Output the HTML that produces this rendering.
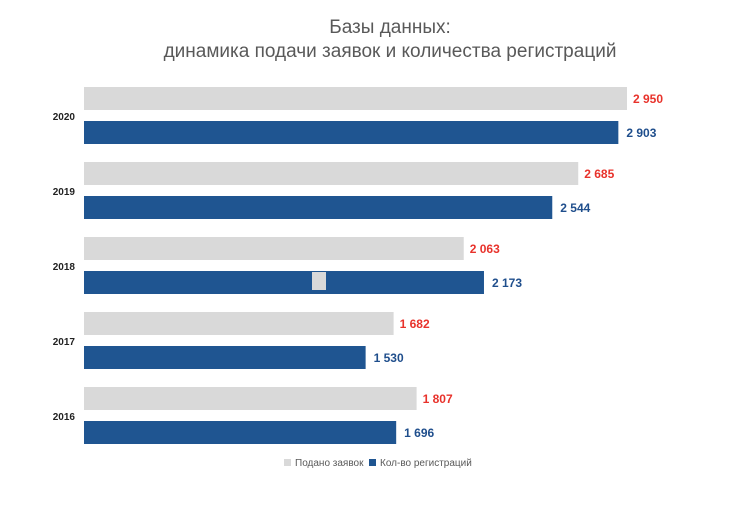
<!DOCTYPE html>
<html><head><meta charset="utf-8"><style>
body{margin:0;background:#fff;width:739px;height:500px;overflow:hidden;font-family:"Liberation Sans",sans-serif;}
</style></head><body>
<svg width="739" height="500" id="c">
<text x="390" y="33" text-anchor="middle" font-size="19" fill="#595959">Базы данных:</text>
<text x="390" y="57" text-anchor="middle" font-size="19" fill="#595959">динамика подачи заявок и количества регистраций</text>
<g id="bars"></g>
<rect x="284" y="459" width="7" height="7" fill="#d9d9d9"/>
<text x="295" y="466" font-size="10" fill="#595959">Подано заявок</text>
<rect x="369" y="459" width="7" height="7" fill="#1f5591"/>
<text x="380" y="466" font-size="10" fill="#595959">Кол-во регистраций</text>
</svg>
<script>
const years=["2020","2019","2018","2017","2016"];
const applications=[2950,2685,2063,1682,1807];
const registrations=[2903,2544,2173,1530,1696];
const x0=84, scale=543/2950;
const xs=v=>x0+v*scale;
const fmt=v=>{const s=String(v);return s.length>3?s.slice(0,-3)+" "+s.slice(-3):s;};
const g=document.getElementById('bars');
const NS="http://www.w3.org/2000/svg";
function mk(tag,attrs){const e=document.createElementNS(NS,tag);for(const k in attrs)e.setAttribute(k,attrs[k]);g.appendChild(e);return e;}
years.forEach((y,i)=>{
  const top=87+i*75;
  let r=mk('rect',{x:x0,y:top,width:xs(applications[i])-x0,height:23,fill:'#d9d9d9'});
  
  
  let t=mk('text',{x:xs(applications[i])+6,y:top+16,'font-size':12,'font-weight':'bold',fill:'#e8322b'});
  t.textContent=fmt(applications[i]);
  
  
  let b=mk('rect',{x:x0,y:top+34,width:xs(registrations[i])-x0,height:23,fill:'#1f5591'});
  
  
  let t2=mk('text',{x:xs(registrations[i])+8,y:top+50,'font-size':12,'font-weight':'bold',fill:'#1f4e8c'});
  t2.textContent=fmt(registrations[i]);
  
  
  let yl=mk('text',{x:75,y:top+33,'font-size':10,'font-weight':'bold',fill:'#222','text-anchor':'end'});
  yl.textContent=y;
  
  
});
let m=mk('rect',{x:312,y:272,width:14,height:18,fill:'#d9d9d9'});


</script>
</body></html>
